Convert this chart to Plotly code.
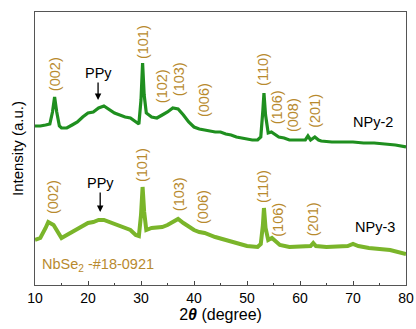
import plotly.graph_objects as go

# ---- data (2theta in degrees, intensity in arbitrary units) ----
npy2_x = [10, 11, 12, 12.8, 13.3, 13.7, 14.1, 14.6, 15, 16, 17, 18, 19, 20, 21, 22, 23, 24, 25, 26, 27, 28,
          29, 29.6, 30.0, 30.3, 30.6, 31.0, 32, 33, 34, 35, 36, 37, 38, 39, 40, 41, 42, 43, 44, 45, 46, 47,
          48, 49, 50, 51, 52, 52.6, 53.0, 53.2, 53.5, 54.0, 54.6, 55.2, 56, 57, 58, 59, 60, 61, 61.5, 62,
          62.8, 63.5, 64, 66, 68, 70, 72, 74, 76, 78, 80]
npy2_px = [126, 126, 125, 124, 112, 97, 112, 126, 128, 128, 125, 122, 117, 113, 112, 108, 106, 110, 113, 115,
           117, 118, 122, 124, 100, 63, 95, 113, 117, 118, 115, 112, 108, 109, 115, 122, 127, 129, 130, 131,
           132, 132, 134, 135, 137, 138, 139, 140, 140, 137, 110, 93, 115, 133, 132, 134, 137, 138, 140, 140,
           140, 140, 136, 140, 137, 140, 141, 142, 142, 142, 143, 143, 144, 145, 147]
npy2_y = [285 - v for v in npy2_px]

npy3_x = [10, 11, 12, 12.5, 13.5, 14.5, 15, 16, 17, 18, 19, 20, 21, 22, 23, 24, 25, 26, 27, 28, 29, 29.6,
          30.0, 30.3, 30.6, 31.0, 32, 33, 34, 35, 36, 37, 38, 39, 40, 41, 42, 44, 46, 48, 50, 52, 52.6, 53.0,
          53.2, 53.5, 54.0, 54.7, 55.5, 56.2, 58, 60, 62, 62.5, 63, 65, 67, 69, 70, 71, 73, 75, 77, 80]
npy3_px = [240, 238, 228, 222, 225, 235, 238, 235, 232, 228, 225, 223, 222, 220, 220, 222, 225, 227, 228, 230,
           235, 236, 215, 187, 212, 230, 228, 228, 227, 225, 222, 219, 223, 227, 230, 232, 233, 237, 240, 243,
           246, 247, 244, 225, 208, 228, 240, 238, 242, 245, 247, 247, 246, 243, 246, 247, 247, 246, 244, 246,
           248, 249, 250, 254]
npy3_y = [285 - v for v in npy3_px]

# peak labels: (text, x, y)
top_labels = [("(002)", 13.8, 211), ("(101)", 30.4, 243), ("(102)", 34.0, 199), ("(103)", 37.2, 206),
              ("(006)", 41.9, 185), ("(110)", 53.0, 216), ("(106)", 55.7, 178), ("(008)", 58.7, 170),
              ("(201)", 62.8, 174)]
bot_labels = [("(002)", 13.4, 88), ("(101)", 30.2, 120), ("(103)", 37.2, 91), ("(006)", 41.7, 78),
              ("(110)", 53.0, 99), ("(106)", 55.8, 65), ("(201)", 62.5, 66)]

x_ticks = [10, 20, 30, 40, 50, 60, 70, 80]

GOLD = "#b88a2e"
FONT = "Liberation Sans, Arial, sans-serif"

fig = go.Figure()
fig.add_trace(go.Scatter(x=npy2_x, y=npy2_y, mode="lines",
                         line=dict(color="#1f8f1f", width=3.2), showlegend=False))
fig.add_trace(go.Scatter(x=npy3_x, y=npy3_y, mode="lines",
                         line=dict(color="#7ab52a", width=4), showlegend=False))

ann = []
for t, x, y in top_labels + bot_labels:
    ann.append(dict(x=x, y=y, text=t, textangle=-90, showarrow=False,
                    font=dict(color=GOLD, size=14.5, family=FONT)))

# PPy labels with arrows (x, y = arrow tip; text offset above)
ann.append(dict(x=21.9, y=185, ax=0, ay=-27, text="PPy", showarrow=True, arrowhead=2, arrowsize=1,
                arrowwidth=1.3, arrowcolor="black", font=dict(color="black", size=14.5, family=FONT)))
ann.append(dict(x=22.3, y=73, ax=0, ay=-29, text="PPy", showarrow=True, arrowhead=2, arrowsize=1,
                arrowwidth=1.3, arrowcolor="black", font=dict(color="black", size=14.5, family=FONT)))
ann.append(dict(x=73.8, y=163, text="NPy-2", showarrow=False, font=dict(color="black", size=14.5, family=FONT)))
ann.append(dict(x=74.2, y=58, text="NPy-3", showarrow=False, font=dict(color="black", size=14.5, family=FONT)))
ann.append(dict(x=10.9, y=20, text="NbSe<sub>2</sub> -#18-0921", xanchor="left", showarrow=False,
                font=dict(color=GOLD, size=14.5, family=FONT)))

fig.update_layout(
    width=416, height=329,
    margin=dict(l=35, r=10, t=12, b=44),
    paper_bgcolor="white", plot_bgcolor="white",
    font=dict(family=FONT, size=14, color="black"),
    annotations=ann,
    xaxis=dict(range=[10, 80], tickvals=x_ticks, ticks="inside", ticklen=4, tickcolor="#444",
               showline=True, linecolor="#555", linewidth=1, mirror=True, showgrid=False, zeroline=False,
               automargin=False,
               minor=dict(dtick=5, tick0=10, ticks="inside", ticklen=2.5, tickcolor="#444"),
               tickfont=dict(size=14),
               title=dict(text="2<b><i>θ</i></b> (degree)", font=dict(size=16), standoff=4)),
    yaxis=dict(range=[0, 273], showticklabels=False, ticks="", showline=True, linecolor="#555", linewidth=1,
               mirror=True, showgrid=False, zeroline=False, automargin=False,
               title=dict(text="Intensity (a.u.)", font=dict(size=15), standoff=6)),
)

fig.write_html("out.html")
